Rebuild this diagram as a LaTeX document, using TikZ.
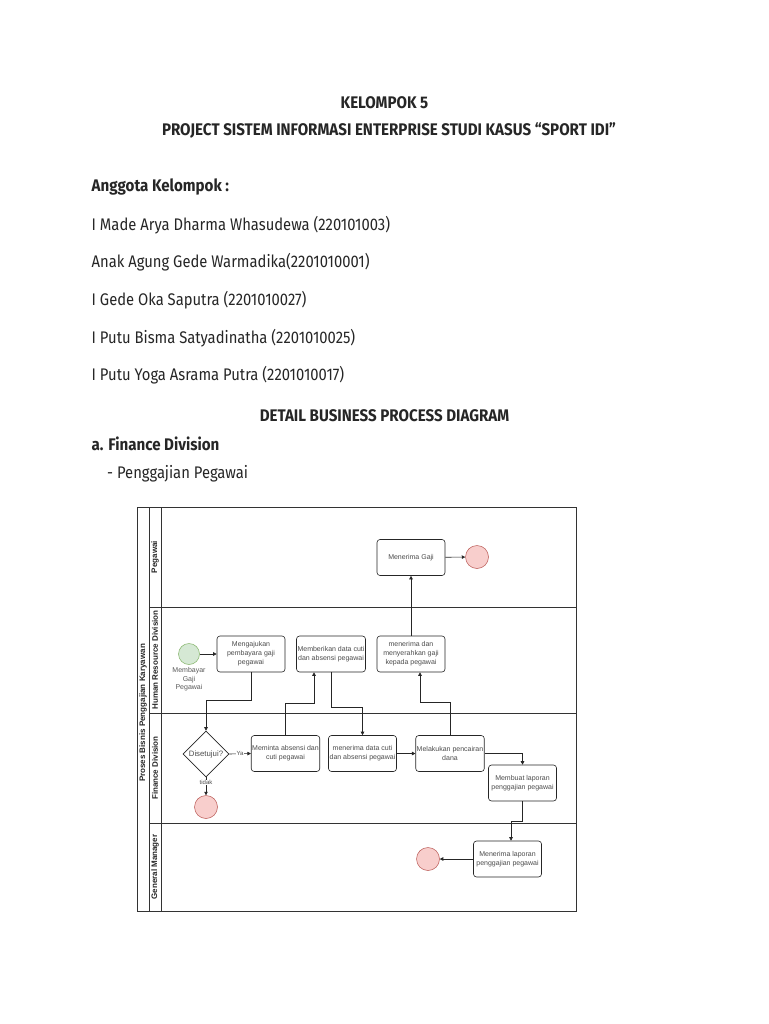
\documentclass[tikz,border=0pt]{standalone}
\usepackage{fontspec}
\setmainfont{Fira Sans}[FakeStretch=0.88,BoldFeatures={FakeStretch=0.9}]
\newfontfamily\diag{Liberation Sans}
\usetikzlibrary{shapes.geometric,arrows.meta}
\definecolor{endfill}{HTML}{F8CECC}
\definecolor{endline}{HTML}{B85450}
\definecolor{stfill}{HTML}{D5E8D4}
\definecolor{stline}{HTML}{82B366}
\definecolor{txt}{HTML}{262626}
\begin{document}
\begin{tikzpicture}[x=1pt,y=-1pt,
  hdr/.style={anchor=base,font=\bfseries\fontsize{16.8}{19}\selectfont,text=txt,inner sep=0},
  body/.style={anchor=base west,font=\fontsize{16.8}{19}\selectfont,text=txt,inner sep=0},
  bodyb/.style={anchor=base west,font=\bfseries\fontsize{16.8}{19}\selectfont,text=txt,inner sep=0},
  task/.style={draw=black!85,rounded corners=3pt,minimum width=68pt,minimum height=36pt,
    inner sep=1pt,align=center,font=\diag\fontsize{7}{9}\selectfont,text=black!70,line width=0.6pt},
  endev/.style={circle,draw=endline,fill=endfill,minimum size=23pt,inner sep=0,line width=0.5pt},
  startev/.style={circle,draw=stline,fill=stfill,minimum size=21pt,inner sep=0,line width=0.5pt},
  arr/.style={-{Triangle[length=3.5pt,width=3.5pt]},line width=0.6pt,draw=black!85},
  lane/.style={draw=black!80,line width=0.6pt},
  lanelbl/.style={rotate=90,font=\diag\bfseries\fontsize{8}{9}\selectfont,text=black!85,inner sep=0},
  lbl/.style={font=\diag\fontsize{6}{7}\selectfont,text=black!70,inner sep=0.5pt,fill=white}
]
\useasboundingbox[fill=white] (0,0) rectangle (768,1024);

% header text
\node[hdr] (h1) at (384.5,108.3) {KELOMPOK 5};
\node[hdr] (h2) at (389,135.7) {PROJECT SISTEM INFORMASI ENTERPRISE STUDI KASUS “SPORT IDI”};
\node[bodyb] (ang) at (91.5,191.7) {Anggota Kelompok :};
\node[body] (m1) at (91.5,230) {I Made Arya Dharma Whasudewa (220101003)};
\node[body] (m2) at (91.5,267.5) {Anak Agung Gede Warmadika(2201010001)};
\node[body] (m3) at (91.5,305.3) {I Gede Oka Saputra (2201010027)};
\node[body] (m4) at (91.5,343) {I Putu Bisma Satyadinatha (2201010025)};
\node[body] (m5) at (91.5,380.8) {I Putu Yoga Asrama Putra (2201010017)};
\node[hdr] (h3) at (384.5,421) {DETAIL BUSINESS PROCESS DIAGRAM};
\node[bodyb] (fin) at (91.5,450) {a. Finance Division};
\node[body] (pg) at (107,478.5) {- Penggajian Pegawai};

% pool and lanes
\draw[lane] (137,507) rectangle (576,911);
\draw[lane] (149,507) -- (149,911);
\draw[lane] (161,507) -- (161,911);
\draw[lane] (149,607) -- (576,607);
\draw[lane] (149,713) -- (576,713);
\draw[lane] (149,823) -- (576,823);
\node[lanelbl] (pool) at (143,713) {Proses Bisnis Penggajian Karyawan};
\node[lanelbl] (l1) at (155,557) {Pegawai};
\node[lanelbl] (l2) at (155,660) {Human Resource Division};
\node[lanelbl] (l3) at (155,768) {Finance Division};
\node[lanelbl] (l4) at (155,867) {General Manager};

% nodes
\node[task] (mg) at (411,557.5) {Menerima Gaji};
\node[endev] (e1) at (477,557) {};
\node[startev] (st) at (189,654) {};
\node[font=\diag\fontsize{7}{8.5}\selectfont,text=black!65,align=center,anchor=north,inner sep=0] (stl) at (189,667.5) {Membayar\\Gaji\\Pegawai};
\node[task] (t1) at (251,654) {Mengajukan\\pembayara gaji\\pegawai};
\node[task] (t2) at (331,654) {Memberikan data cuti\\dan absensi pegawai};
\node[task] (t3) at (411,654) {menerima dan\\menyerahkan gaji\\kepada pegawai};
\node[diamond,draw=black!85,line width=0.6pt,minimum width=46pt,minimum height=46pt,inner sep=0,
  font=\diag\fontsize{7.8}{9}\selectfont,text=black!70] (d) at (206,754) {Disetujui?};
\node[endev] (e2) at (206,807) {};
\node[task] (t4) at (285.5,753.5) {Meminta absensi dan\\cuti pegawai};
\node[task] (t5) at (362.5,753.5) {menerima data cuti\\dan absensi pegawai};
\node[task] (t6) at (450,753.5) {Melakukan pencairan\\dana};
\node[task] (t7) at (522.5,783) {Membuat laporan\\penggajian pegawai};
\node[task] (t8) at (507.5,859) {Menerima laporan\\penggajian pegawai};
\node[endev] (e3) at (428,859) {};

% connectors
\draw[arr] (st) -- (t1);
\draw[arr] (t1.south) -- ++(0,28) -| (d.north);
\draw[arr] (d.east) -- node[lbl,pos=0.5]{Ya} (t4.west);
\draw[arr] (d.south) -- node[lbl,pos=0.3]{tidak} (e2.north);
\draw[arr] (t4.north) -- ++(0,-31.5) -| ([xshift=-17pt]t2.south);
\draw[arr] (t2.south) -- ++(0,35) -| (t5.north);
\draw[arr] (t5) -- (t6);
\draw[arr] (t6.north) -- ++(0,-32.5) -| ([xshift=9pt]t3.south);
\draw[arr] (t3) -- (mg);
\draw[arr] (mg) -- (e1);
\draw[arr] (t6.east) -| (t7.north);
\draw[arr] (t7.south) -- ++(0,20) -| ([xshift=3.5pt]t8.north);
\draw[arr] (t8) -- (e3);
\end{tikzpicture}
\end{document}
